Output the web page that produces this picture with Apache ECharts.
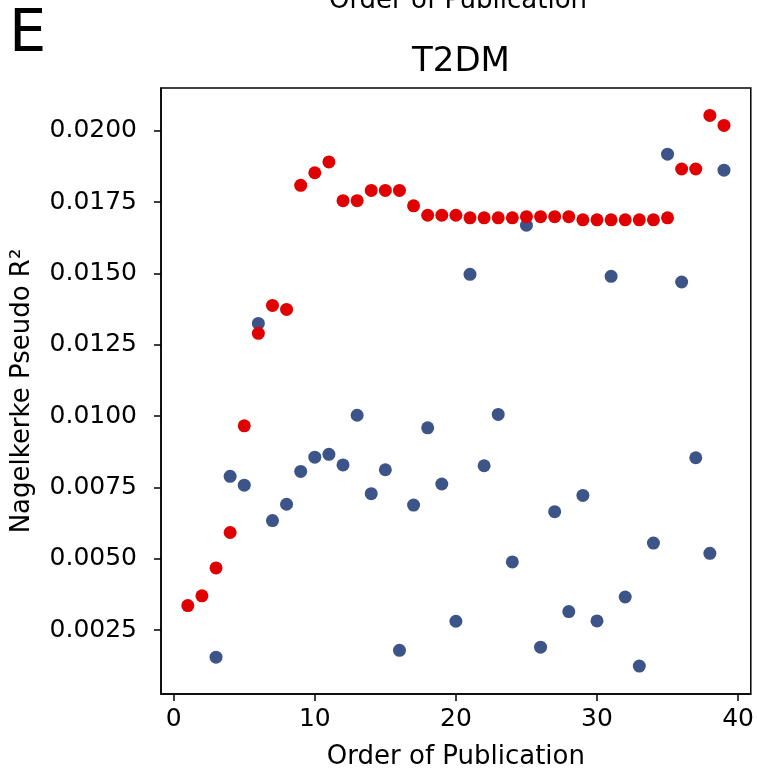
<!DOCTYPE html>
<html>
<head>
<meta charset="utf-8">
<script src="https://cdn.jsdelivr.net/npm/echarts@6/dist/echarts.min.js"></script>
<style>
    html, body { margin: 0; padding: 0; background: #fff; overflow: hidden; }
    #main { width: 757px; height: 777px; }
</style>
</head>
<body>
<div id="main"></div>
<script type="text/javascript">
    // order of publication
    var order = [1,2,3,4,5,6,7,8,9,10,11,12,13,14,15,16,17,18,19,20,
                 21,22,23,24,25,26,27,28,29,30,31,32,33,34,35,36,37,38,39];
    // single study (blue), no point for 1 and 2
    var single = [null,null,0.00155,0.00789,0.00758,0.01325,0.00634,0.00691,0.00806,0.00856,
                  0.00866,0.00829,0.01003,0.00728,0.00812,0.00179,0.00688,0.00959,0.00762,0.00281,
                  0.01497,0.00826,0.01006,0.00489,0.01669,0.00190,0.00665,0.00315,0.00722,0.00282,
                  0.01490,0.00366,0.00124,0.00555,0.01918,0.01470,0.00854,0.00519,0.01862];
    // cumulative (red)
    var cumulative = [0.00336,0.00370,0.00468,0.00592,0.00966,0.01290,0.01388,0.01374,0.01809,0.01853,
                      0.01891,0.01755,0.01755,0.01791,0.01791,0.01791,0.01737,0.01704,0.01704,0.01704,
                      0.01695,0.01695,0.01695,0.01695,0.01699,0.01699,0.01699,0.01699,0.01688,0.01688,
                      0.01688,0.01688,0.01688,0.01688,0.01695,0.01866,0.01866,0.02054,0.02019];
    var xTicks = [0, 10, 20, 30, 40];
    var yTicks = [0.0025, 0.0050, 0.0075, 0.0100, 0.0125, 0.0150, 0.0175, 0.0200];

    function pairs(ys) {
        var out = [];
        for (var i = 0; i < order.length; i++) {
            if (ys[i] !== null) out.push([order[i], ys[i]]);
        }
        return out;
    }

    var font = 'DejaVu Sans';
    var myChart = echarts.init(document.getElementById('main'));
    var option = {
        animation: false,
        textStyle: { fontFamily: font },
        title: {
            text: 'T2DM',
            left: 456, top: 40,
            textAlign: 'center',
            textStyle: { fontFamily: font, fontSize: 34, fontWeight: 'normal', color: '#000' }
        },
        graphic: [
            { type: 'text', left: 9, top: 6,
              style: { text: 'E', font: '59px "DejaVu Sans"', fill: '#000' } },
            { type: 'text', x: 458, y: 1,
              style: { text: 'Order of Publication', font: '26px "DejaVu Sans"', fill: '#000',
                       align: 'center', verticalAlign: 'middle' } }
        ],
        grid: {
            left: 161, right: 2, top: 88, bottom: 83,
            show: true, borderColor: '#000', borderWidth: 1.5,
            containLabel: false
        },
        xAxis: {
            type: 'value',
            min: -0.9, max: 40.9,
            name: 'Order of Publication',
            nameLocation: 'middle',
            nameGap: 50,
            nameTextStyle: { fontSize: 26, color: '#000' },
            splitLine: { show: false },
            axisLine: { show: true, onZero: false, lineStyle: { color: '#000', width: 1.5 } },
            axisTick: { show: true, length: 7, lineStyle: { color: '#000', width: 1.5 }, customValues: xTicks },
            axisLabel: { fontSize: 25, color: '#000', margin: 13, customValues: xTicks }
        },
        yAxis: {
            type: 'value',
            min: 0.00026, max: 0.0215,
            name: 'Nagelkerke Pseudo R²',
            nameLocation: 'middle',
            nameGap: 126,
            nameTextStyle: { fontSize: 26, color: '#000' },
            splitLine: { show: false },
            axisLine: { show: true, onZero: false, lineStyle: { color: '#000', width: 1.5 } },
            axisTick: { show: true, length: 7, lineStyle: { color: '#000', width: 1.5 }, customValues: yTicks },
            axisLabel: {
                fontSize: 25, color: '#000', margin: 24, customValues: yTicks,
                formatter: function (v) { return v.toFixed(4); }
            }
        },
        series: [
            {
                name: 'single',
                type: 'scatter',
                symbol: 'circle',
                symbolSize: 13,
                itemStyle: { color: '#3c5488', opacity: 1 },
                data: pairs(single)
            },
            {
                name: 'cumulative',
                type: 'scatter',
                symbol: 'circle',
                symbolSize: 13,
                itemStyle: { color: '#e00000', opacity: 1 },
                data: pairs(cumulative)
            }
        ]
    };
    myChart.setOption(option);
</script>
</body>
</html>
